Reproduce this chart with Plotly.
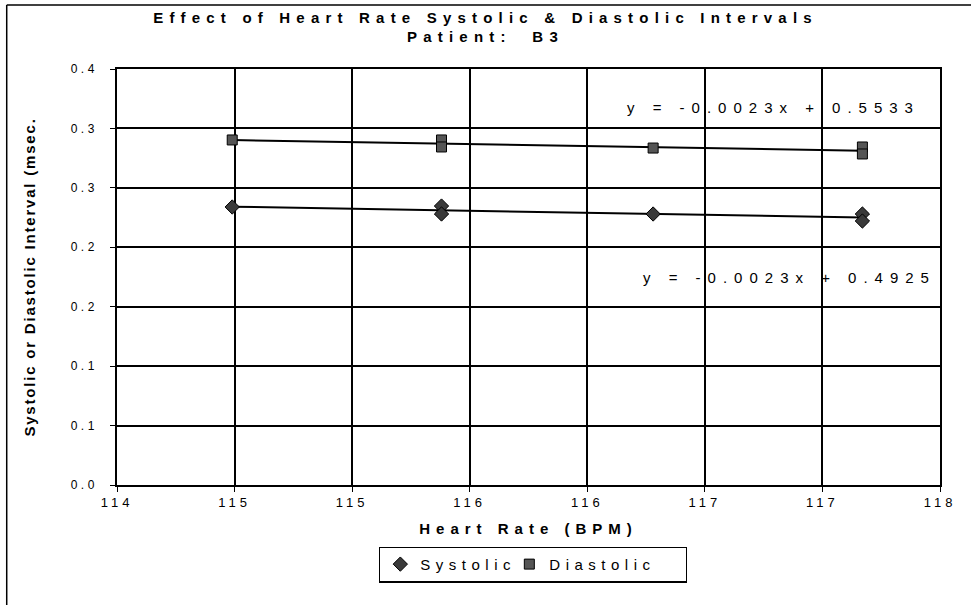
import numpy as np
import plotly.graph_objects as go

# ---- data ----
sys_hr = [114.49, 115.38, 115.38, 116.28, 117.17, 117.17]
sys_int = [0.2339, 0.2347, 0.2280, 0.2280, 0.2280, 0.2221]
dia_hr = [114.49, 115.38, 115.38, 116.28, 117.17, 117.17]
dia_int = [0.2903, 0.2903, 0.2844, 0.2835, 0.2844, 0.2785]

x_tickvals = [114, 114.5, 115, 115.5, 116, 116.5, 117, 117.5]
x_ticktext = ["114", "115", "115", "116", "116", "117", "117", "118"]
y_tickvals = [0, 0.05, 0.10, 0.15, 0.20, 0.25, 0.30, 0.35]
y_ticktext = ["0.0", "0.1", "0.1", "0.2", "0.2", "0.3", "0.3", "0.4"]

eq_dia = "y = -0.0023x + 0.5533"
eq_sys = "y = -0.0023x + 0.4925"
title_text = "Effect of Heart Rate Systolic & Diastolic Intervals<br>Patient:  B3"

FONT = "Liberation Sans, Arial, sans-serif"


def trend(xs, ys):
    m, b = np.polyfit(xs, ys, 1)
    xx = np.array([min(xs), max(xs)])
    return xx, m * xx + b


fig = go.Figure()

tx, ty = trend(sys_hr, sys_int)
fig.add_trace(go.Scatter(x=tx, y=ty, mode="lines", line=dict(color="black", width=2),
                         showlegend=False, hoverinfo="skip"))
tx, ty = trend(dia_hr, dia_int)
fig.add_trace(go.Scatter(x=tx, y=ty, mode="lines", line=dict(color="black", width=2),
                         showlegend=False, hoverinfo="skip"))

fig.add_trace(go.Scatter(x=sys_hr, y=sys_int, mode="markers", name="Systolic",
                         marker=dict(symbol="diamond", size=11, color="#3a3a3a",
                                     line=dict(color="black", width=1)),
                         legendwidth=84))
fig.add_trace(go.Scatter(x=dia_hr, y=dia_int, mode="markers", name="Diastolic",
                         marker=dict(symbol="square", size=10, color="#555555",
                                     line=dict(color="black", width=1)),
                         legendwidth=131))

axis_common = dict(showline=True, linecolor="black", linewidth=1.5, mirror=True,
                   showgrid=True, gridcolor="black", gridwidth=1.5, zeroline=False,
                   ticks="outside", ticklen=5, tickcolor="black", tickwidth=1.3)

fig.update_xaxes(range=[114, 117.5], tickmode="array", tickvals=x_tickvals, ticktext=x_ticktext,
                 tickfont=dict(family=FONT, size=13, color="black"),
                 title=dict(text="Heart Rate (BPM)", font=dict(family=FONT, size=15, color="black",
                                                               weight="bold"), standoff=14),
                 **axis_common)
fig.update_yaxes(range=[0, 0.35], tickmode="array", tickvals=y_tickvals, ticktext=y_ticktext,
                 tickfont=dict(family=FONT, size=12, color="black"), ticklabelstandoff=10,
                 title=dict(text="Systolic or Diastolic Interval (msec.",
                            font=dict(family=FONT, size=15, color="black", weight="bold"),
                            standoff=42),
                 **axis_common)

fig.add_annotation(x=0.617, y=0.9327, xref="paper", yref="paper", text=eq_dia, showarrow=False,
                   xanchor="left", align="left",
                   font=dict(family=FONT, size=15, color="black"))
fig.add_annotation(x=0.637, y=0.4976, xref="paper", yref="paper", text=eq_sys, showarrow=False,
                   xanchor="left", align="left",
                   font=dict(family=FONT, size=15, color="black"))

# outer chart frame (top and left edges visible in the reference)
fig.add_shape(type="line", xref="paper", yref="paper", x0=-0.134, x1=1.1, y0=1.154, y1=1.154,
              line=dict(color="black", width=1.5))
fig.add_shape(type="line", xref="paper", yref="paper", x0=-0.134, x1=-0.134, y0=1.154, y1=-0.35,
              line=dict(color="black", width=1.5))

fig.update_layout(
    width=971, height=605,
    margin=dict(l=117, r=31, t=69, b=120),
    paper_bgcolor="white", plot_bgcolor="white",
    title=dict(text=title_text, x=0.5, xanchor="center", xref="container",
               y=0.962, yanchor="top",
               font=dict(family=FONT, size=15, color="black", weight="bold")),
    legend=dict(orientation="h", x=0.5055, xanchor="center", y=-0.148, yanchor="top",
                bordercolor="black", borderwidth=1.3, bgcolor="white",
                font=dict(family=FONT, size=15, color="black"), itemwidth=30),
    showlegend=True,
)

post = """
var s = document.createElement('style');
s.textContent = '.gtitle{letter-spacing:6.2px}' +
  '.xtitle{letter-spacing:6px}' +
  '.ytitle{letter-spacing:1.8px}' +
  '.xtick text{letter-spacing:4px}' +
  '.ytick text{letter-spacing:3.5px}' +
  '.annotation-text{letter-spacing:7px}' +
  '.legendtext{letter-spacing:5.5px}';
document.head.appendChild(s);
"""
fig.write_html("out.html", post_script=post)
